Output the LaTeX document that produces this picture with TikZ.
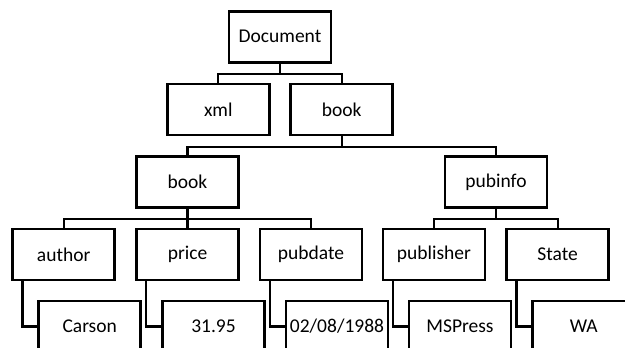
\documentclass[tikz,border=0pt]{standalone}
\usepackage{fontspec}
\setmainfont{Carlito}
\begin{document}
\begin{tikzpicture}[x=1pt,y=-1pt,
  box/.style={draw=black,line width=2.5pt,minimum width=102pt,minimum height=51pt,inner sep=0pt,
    font=\fontsize{19.5}{22}\selectfont,text=black},
  link/.style={draw=black,line width=2.2pt}]
\clip (0,0) rectangle (625,348);
\fill[white] (0,0) rectangle (625,348);
% level 1
\node[box] (doc) at (280,36.8) {Document};
% level 2
\node[box] (xml) at (218.3,109.5) {xml};
\node[box] (bookA) at (341.7,109.5) {book};
% level 3
\node[box] (bookB) at (187.5,182) {book};
\node[box] (pubinfo) at (496,182) {pubinfo};
% level 4
\node[box] (author) at (63.7,254.3) {author};
\node[box] (price) at (187.5,254.3) {price};
\node[box] (pubdate) at (311,254.3) {pubdate};
\node[box] (publisher) at (434,254.3) {publisher};
\node[box] (state) at (557.7,254.3) {State};
% level 5
\node[box] (carson) at (89.7,326.5) {Carson};
\node[box] (pricev) at (213.5,326.5) {31.95};
\node[box] (datev) at (337,326.5) {02/08/1988};
\node[box] (mspress) at (460,326.5) {MSPress};
\node[box] (wa) at (583.7,326.5) {WA};
% tree links
\draw[link] (doc.south) -- ++(0,10.7) -| (xml.north);
\draw[link] (doc.south) -- ++(0,10.7) -| (bookA.north);
\draw[link] (bookA.south) -- ++(0,10.5) -| (bookB.north);
\draw[link] (bookA.south) -- ++(0,10.5) -| (pubinfo.north);
\draw[link] (bookB.south) -- ++(0,10.3) -| (author.north);
\draw[link] (bookB.south) -- ++(0,10.3) -| (price.north);
\draw[link] (bookB.south) -- ++(0,10.3) -| (pubdate.north);
\draw[link] (pubinfo.south) -- ++(0,10.3) -| (publisher.north);
\draw[link] (pubinfo.south) -- ++(0,10.3) -| (state.north);
% value links
\draw[link] ([xshift=11pt]author.south west) |- (carson.west);
\draw[link] ([xshift=11pt]price.south west) |- (pricev.west);
\draw[link] ([xshift=11pt]pubdate.south west) |- (datev.west);
\draw[link] ([xshift=11pt]publisher.south west) |- (mspress.west);
\draw[link] ([xshift=11pt]state.south west) |- (wa.west);
\end{tikzpicture}
\end{document}
